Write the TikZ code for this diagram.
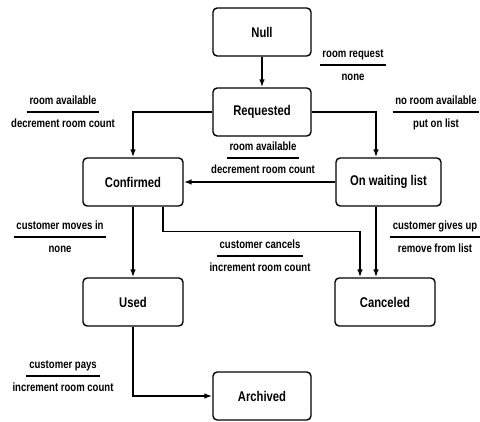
\documentclass[tikz,border=0pt]{standalone}
\usepackage{fontspec}
\usepackage{calc}
\setmainfont{Liberation Sans}[FakeStretch=0.8]
\usepackage{tikz}
\usetikzlibrary{positioning,arrows.meta}
\newcommand{\trans}[2]{\begin{tabular}{@{}c@{}}#1\\[-4pt]\rule{\widthof{#1}+4pt}{1.3pt}\\#2\end{tabular}}

\begin{document}
\begin{tikzpicture}[
    state/.style={draw, line width=1pt, rounded corners=3pt, minimum width=2.5cm, minimum height=1.2cm, align=center, font=\bfseries\fontsize{10}{12}\selectfont},
    trn/.style={font=\bfseries\fontsize{8.5}{10}\selectfont, inner sep=0pt},
    arr/.style={-{Latex[length=2mm, width=1.4mm]}, line width=1.1pt},
]
\useasboundingbox (0,0) rectangle (12,10.525);

\node[state, minimum width=2.45cm] (null) at (6.55,9.725) {Null};
\node[state, minimum width=2.45cm] (req) at (6.55,7.725) {Requested};
\node[state] (conf) at (3.325,5.975) {Confirmed};
\node[state, minimum width=2.625cm] (wait) at (9.7125,5.975) {On waiting list};
\node[state] (used) at (3.325,2.975) {Used};
\node[state] (canc) at (9.625,2.975) {Canceled};
\node[state, minimum width=2.45cm] (arch) at (6.55,0.625) {Archived};

\draw[arr] (null) -- (req);
\draw[arr] (req.west) -| (conf.north);
\draw[arr] (req.east) -| ([xshift=-0.3125cm]wait.north);
\draw[arr] (wait) -- (conf);
\draw[arr] (conf) -- (used);
\draw[arr] ([xshift=0.75cm]conf.south) -- ++(0,-0.625) -| ([xshift=-0.625cm]canc.north);
\draw[arr] ([xshift=-0.3125cm]wait.south) -- ([xshift=-0.3125cm]wait.south |- canc.north);
\draw[arr] (used.south) |- (arch.west);

% transition labels: event over action
\node[trn] (tnull) at (8.825,8.875) {\trans{room request}{none}};
\node[trn] (tconf) at (1.575,7.7) {\trans{room available}{decrement room count}};
\node[trn] (twait) at (10.9,7.7) {\trans{no room available}{put on list}};
\node[trn] (tback) at (6.575,6.55) {\trans{room available}{decrement room count}};
\node[trn] (tused) at (1.5,4.575) {\trans{customer moves in}{none}};
\node[trn] (tcanc) at (6.5,4.1) {\trans{customer cancels}{increment room count}};
\node[trn] (tgive) at (10.875,4.575) {\trans{customer gives up}{remove from list}};
\node[trn] (tpays) at (1.575,1.1) {\trans{customer pays}{increment room count}};
\end{tikzpicture}
\end{document}
